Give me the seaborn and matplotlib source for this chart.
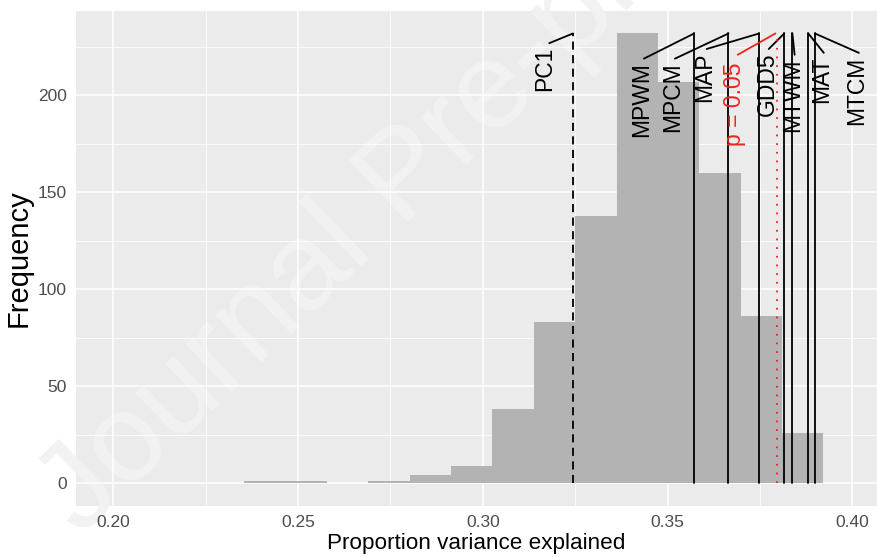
import matplotlib
matplotlib.use("Agg")
import matplotlib.pyplot as plt
import seaborn as sns

# histogram of permuted proportion of variance explained
bin_centers = [0.2410, 0.2522, 0.2634, 0.2746, 0.2858, 0.2970, 0.3082,
               0.3194, 0.3306, 0.3418, 0.3530, 0.3642, 0.3754, 0.3866]
bin_counts = [1, 1, 0, 1, 4, 9, 38, 83, 138, 232, 207, 160, 86, 26]
bin_width = 0.0112

# observed values for the climate variables
var_names = ['MPWM', 'MPCM', 'MAP', 'GDD5', 'MTWM', 'MAT', 'MTCM']
var_values = [0.3572, 0.3665, 0.3748, 0.3816, 0.3838, 0.3881, 0.3899]
var_label_x = [0.3431, 0.3515, 0.3601, 0.3769, 0.3839, 0.3918, 0.4013]
var_label_top = [217, 217, 222, 222, 219, 220, 220]

pc1_value = 0.3244
pc1_label_x, pc1_label_top = 0.3168, 225

p05_value = 0.3797
p05_label_x, p05_label_top = 0.3682, 217

line_top = 232

sns.set_theme(style="darkgrid", rc={
    'axes.facecolor': '#ebebeb',
    'grid.color': 'white',
    'axes.edgecolor': '#ebebeb',
})
plt.rcParams['font.family'] = ['Liberation Sans', 'DejaVu Sans']

fig = plt.figure(figsize=(8.77, 5.57), dpi=100)
ax = fig.add_axes([76 / 877, 1 - 505.5 / 557, 801 / 877, 494.5 / 557])

# watermark
ax.text(0.092, 0.036, 'Journal Pre-proof', transform=fig.transFigure,
        rotation=44, rotation_mode='anchor', ha='left', va='baseline',
        fontsize=90, color='#f2f2f2', zorder=0.4, clip_on=False)

edges = [c - bin_width / 2 for c in bin_centers] + [bin_centers[-1] + bin_width / 2]
sns.histplot(x=bin_centers, weights=bin_counts, bins=edges, ax=ax,
             color='#b3b3b3', alpha=1, edgecolor='none', linewidth=0,
             zorder=1)

lw = 1.3
# PC1 dashed line and its label
ax.plot([pc1_value, pc1_value], [0, line_top], color='black', lw=lw,
        dashes=(4.5, 3), zorder=3)
ax.plot([pc1_label_x + 0.0012, pc1_value], [pc1_label_top + 2, line_top],
        color='black', lw=lw, zorder=3)
ax.text(pc1_label_x, pc1_label_top, 'PC1', rotation=90, ha='center',
        va='top', fontsize=16.5, color='black', zorder=4)

# climate variables
for name, val, lx, ltop in zip(var_names, var_values, var_label_x, var_label_top):
    ax.plot([val, val], [0, line_top], color='black', lw=lw, zorder=3)
    ax.plot([lx + 0.0005, val], [ltop + 2, line_top], color='black', lw=lw,
            zorder=3)
    ax.text(lx, ltop, name, rotation=90, ha='center', va='top',
            fontsize=16.5, color='black', zorder=4)

# p = 0.05 threshold
ax.plot([p05_value, p05_value], [0, line_top], color='#e8261c', lw=lw,
        linestyle=(0, (1, 3.8)), zorder=3)
ax.plot([p05_label_x + 0.0008, p05_value - 0.0005], [p05_label_top + 4, line_top],
        color='#e8261c', lw=lw, zorder=3)
ax.text(p05_label_x, p05_label_top, 'p = 0.05', rotation=90, ha='center',
        va='top', fontsize=16.5, color='#e8261c', zorder=4)

ax.set_xlim(0.1899, 0.4067)
ax.set_ylim(-11.6, 243.6)
ax.set_xticks([0.20, 0.25, 0.30, 0.35, 0.40])
ax.set_xticklabels(['0.20', '0.25', '0.30', '0.35', '0.40'])
ax.set_xticks([0.225, 0.275, 0.325, 0.375], minor=True)
ax.set_yticks([0, 50, 100, 150, 200])
ax.set_yticks([25, 75, 125, 175, 225], minor=True)
ax.grid(which='major', color='white', lw=1.1)
ax.grid(which='minor', color='white', lw=0.55)
ax.set_axisbelow(True)
for s in ax.spines.values():
    s.set_visible(False)

ax.tick_params(axis='both', which='major', length=3.6, width=1,
               color='#333333', labelcolor='#4d4d4d', labelsize=12.5, pad=3)
ax.tick_params(axis='both', which='minor', length=0)

ax.set_xlabel('Proportion variance explained', fontsize=16.2, color='black')
ax.set_ylabel('Frequency', fontsize=21, color='black')
ax.xaxis.set_label_coords(0.5, -0.056)
ax.yaxis.set_label_coords(-0.054, 0.5)

fig.savefig('out.png', dpi=100)
